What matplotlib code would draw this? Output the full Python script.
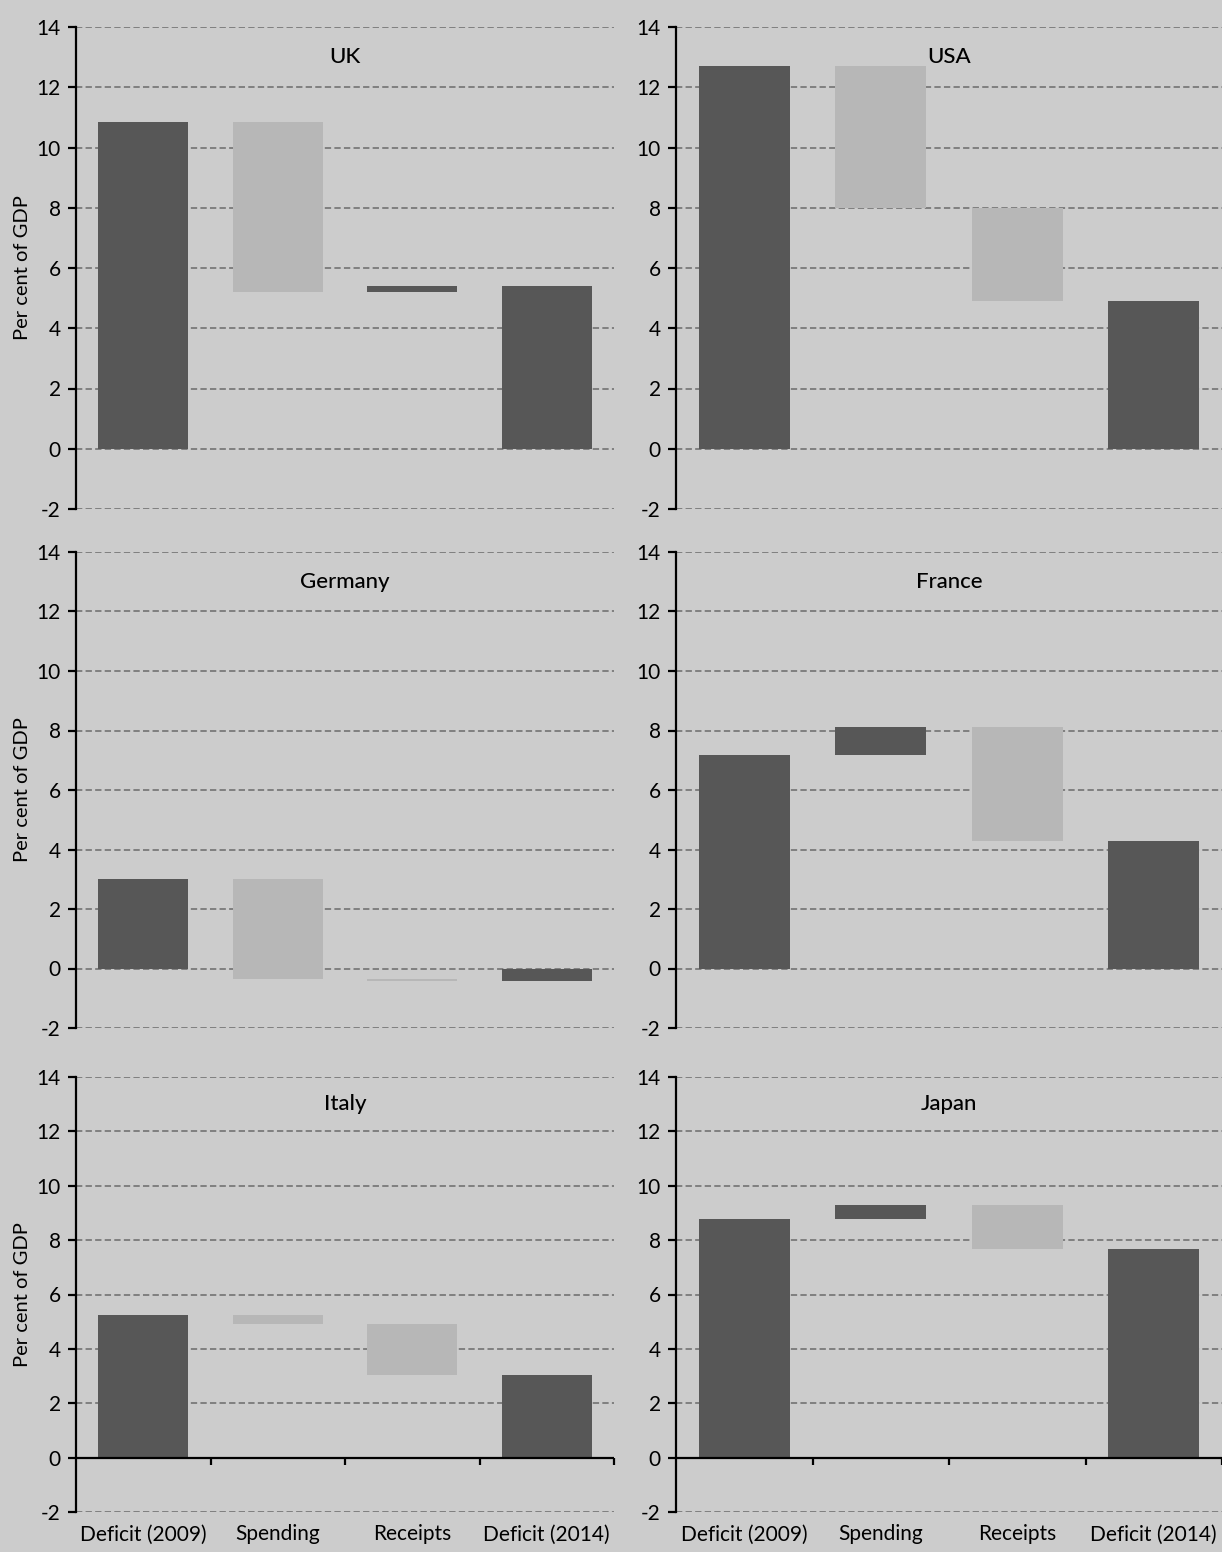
import matplotlib
matplotlib.use("Agg")
import matplotlib.pyplot as plt
import numpy as np

plt.rcParams['font.family'] = ['Lato', 'DejaVu Sans']
plt.rcParams['axes.unicode_minus'] = False

categories = ['Deficit (2009)', 'Spending', 'Receipts', 'Deficit (2014)']
countries = ['UK', 'USA', 'Germany', 'France', 'Italy', 'Japan']

# per cent of GDP
deficit_2009 = [10.83, 12.70, 3.02, 7.17, 5.25, 8.79]
spending_change = [-5.63, -4.70, -3.38, 0.94, -0.35, 0.52]
receipts_change = [0.19, -3.10, -0.06, -3.82, -1.85, -1.63]

BG = '#cccccc'
DARK = '#575757'
LIGHT = '#b7b7b7'

fig = plt.figure(figsize=(12.22, 15.52), dpi=100, facecolor=BG)
W, H = 1222.0, 1552.0

# panel boxes in pixels: (left, top, right, bottom)
cols = [(76, 614), (676, 1222)]
rows = [(27, 509), (552, 1028), (1077, 1512)]

x = np.arange(len(categories))

for i, name in enumerate(countries):
    r, c = divmod(i, 2)
    left, right = cols[c]
    top, bottom = rows[r]
    ax = fig.add_axes([left / W, 1 - bottom / H, (right - left) / W, (bottom - top) / H])
    ax.set_facecolor(BG)

    start = deficit_2009[i]
    mid = start + spending_change[i]
    end = mid + receipts_change[i]

    heights = [start, spending_change[i], receipts_change[i], end]
    bottoms = [0, start, mid, 0]
    colors = [DARK,
              DARK if spending_change[i] > 0 else LIGHT,
              DARK if receipts_change[i] > 0 else LIGHT,
              DARK]
    ax.bar(x, heights, bottom=bottoms, width=0.67, color=colors, zorder=3)

    ax.set_xlim(-0.5, 3.5)
    ax.set_ylim(-2, 14)
    ax.set_yticks(np.arange(-2, 15, 2))
    ax.yaxis.grid(True, linestyle=(0, (3.5, 1.8)), color='#7a7a7a', linewidth=1.3, zorder=0)
    ax.set_axisbelow(True)
    for s in ['top', 'right', 'bottom']:
        ax.spines[s].set_visible(False)
    ax.spines['left'].set_linewidth(1.6)
    ax.spines['left'].set_color('black')
    ax.tick_params(axis='y', direction='out', length=6, width=1.6, labelsize=15, pad=5)
    for t in ax.get_yticklabels():
        t.set_clip_on(False)

    ax.text(0.5, 0.937, name, transform=ax.transAxes, ha='center', va='center',
            fontsize=16, fontweight='medium')

    if c == 0:
        ax.set_ylabel('Per cent of GDP', fontsize=14.5, labelpad=4)

    if r == 2:
        ax.set_xticks(x)
        ax.set_xticklabels(categories, fontsize=15)
        ax.tick_params(axis='x', length=0, pad=9)
        ax.axhline(0, color='black', linewidth=1.6, zorder=4)
        zero = ax.secondary_xaxis(2 / 16)
        zero.set_xticks(x + 0.5)
        zero.set_xticklabels([])
        zero.tick_params(axis='x', direction='out', length=5, width=1.6)
        zero.spines['bottom'].set_visible(False)
    else:
        ax.set_xticks([])

fig.savefig('out.png', dpi=100, facecolor=BG)
